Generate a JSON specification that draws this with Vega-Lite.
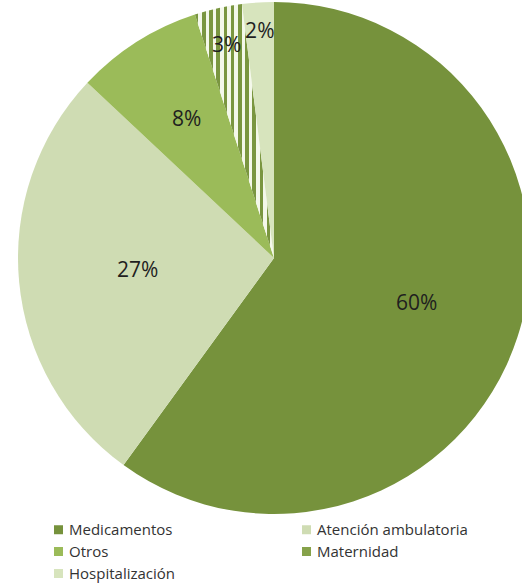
{
  "$schema": "https://vega.github.io/schema/vega-lite/v6.json",
  "width": 548,
  "height": 516,
  "autosize": {"type": "none"},
  "padding": {"left": 0, "top": 0, "right": 0, "bottom": 69},
  "background": "white",
  "view": {"stroke": null},
  "data": {
    "values": [
      {"cat": "Medicamentos", "share": 0.60},
      {"cat": "Atención ambulatoria", "share": 0.27},
      {"cat": "Otros", "share": 0.08},
      {"cat": "Maternidad", "share": 0.03},
      {"cat": "Hospitalización", "share": 0.02}
    ]
  },
  "encoding": {
    "theta": {"field": "share", "type": "quantitative", "stack": true},
    "order": {"field": "share", "type": "quantitative", "sort": "descending"}
  },
  "layer": [
    {
      "mark": {"type": "arc", "outerRadius": 256},
      "encoding": {
        "fill": {
          "condition": {
            "test": "datum.cat === 'Maternidad'",
            "value": {
              "gradient": "linear", "x1": 0, "y1": 0, "x2": 1, "y2": 0,
              "stops": [
                {"offset": 0, "color": "#7a9640"}, {"offset": 0.045, "color": "#7a9640"}, {"offset": 0.045, "color": "#f4f8ea"}, {"offset": 0.0909, "color": "#f4f8ea"},
                {"offset": 0.0909, "color": "#7a9640"}, {"offset": 0.136, "color": "#7a9640"}, {"offset": 0.136, "color": "#f4f8ea"}, {"offset": 0.1818, "color": "#f4f8ea"},
                {"offset": 0.1818, "color": "#7a9640"}, {"offset": 0.227, "color": "#7a9640"}, {"offset": 0.227, "color": "#f4f8ea"}, {"offset": 0.2727, "color": "#f4f8ea"},
                {"offset": 0.2727, "color": "#7a9640"}, {"offset": 0.318, "color": "#7a9640"}, {"offset": 0.318, "color": "#f4f8ea"}, {"offset": 0.3636, "color": "#f4f8ea"},
                {"offset": 0.3636, "color": "#7a9640"}, {"offset": 0.409, "color": "#7a9640"}, {"offset": 0.409, "color": "#f4f8ea"}, {"offset": 0.4545, "color": "#f4f8ea"},
                {"offset": 0.4545, "color": "#7a9640"}, {"offset": 0.5, "color": "#7a9640"}, {"offset": 0.5, "color": "#f4f8ea"}, {"offset": 0.5455, "color": "#f4f8ea"},
                {"offset": 0.5455, "color": "#7a9640"}, {"offset": 0.591, "color": "#7a9640"}, {"offset": 0.591, "color": "#f4f8ea"}, {"offset": 0.6364, "color": "#f4f8ea"},
                {"offset": 0.6364, "color": "#7a9640"}, {"offset": 0.682, "color": "#7a9640"}, {"offset": 0.682, "color": "#f4f8ea"}, {"offset": 0.7273, "color": "#f4f8ea"},
                {"offset": 0.7273, "color": "#7a9640"}, {"offset": 0.773, "color": "#7a9640"}, {"offset": 0.773, "color": "#f4f8ea"}, {"offset": 0.8182, "color": "#f4f8ea"},
                {"offset": 0.8182, "color": "#7a9640"}, {"offset": 0.864, "color": "#7a9640"}, {"offset": 0.864, "color": "#f4f8ea"}, {"offset": 0.9091, "color": "#f4f8ea"},
                {"offset": 0.9091, "color": "#7a9640"}, {"offset": 0.955, "color": "#7a9640"}, {"offset": 0.955, "color": "#f4f8ea"}, {"offset": 1, "color": "#f4f8ea"}
              ]
            }
          },
          "field": "cat",
          "type": "nominal",
          "scale": {
            "domain": ["Medicamentos", "Atención ambulatoria", "Otros", "Maternidad", "Hospitalización"],
            "range": ["#76923c", "#cfdcb3", "#9bbb59", "#86a24a", "#d7e4bd"]
          },
          "legend": {
            "title": null,
            "orient": "none",
            "legendX": 51,
            "legendY": 522,
            "direction": "horizontal",
            "columns": 2,
            "gridAlign": "all",
            "columnPadding": 79,
            "rowPadding": 6,
            "padding": 0,
            "symbolType": "square",
            "symbolSize": 81,
            "symbolStrokeWidth": 0,
            "labelFont": "Open Sans",
            "labelFontSize": 15,
            "labelFontWeight": 500,
            "labelColor": "#333333",
            "labelOffset": 3,
            "labelLimit": 250
          }
        }
      }
    },
    {
      "mark": {"type": "text", "font": "Open Sans", "fontSize": 21, "color": "#1f1f1f"},
      "encoding": {
        "text": {"field": "share", "type": "quantitative", "format": ".0%"},
        "radius": {
          "field": "share",
          "type": "quantitative",
          "scale": {"type": "linear", "zero": false, "domain": [0.02, 0.03, 0.08, 0.27, 0.60], "range": [226, 217, 163, 137, 150]}
        }
      }
    }
  ]
}
